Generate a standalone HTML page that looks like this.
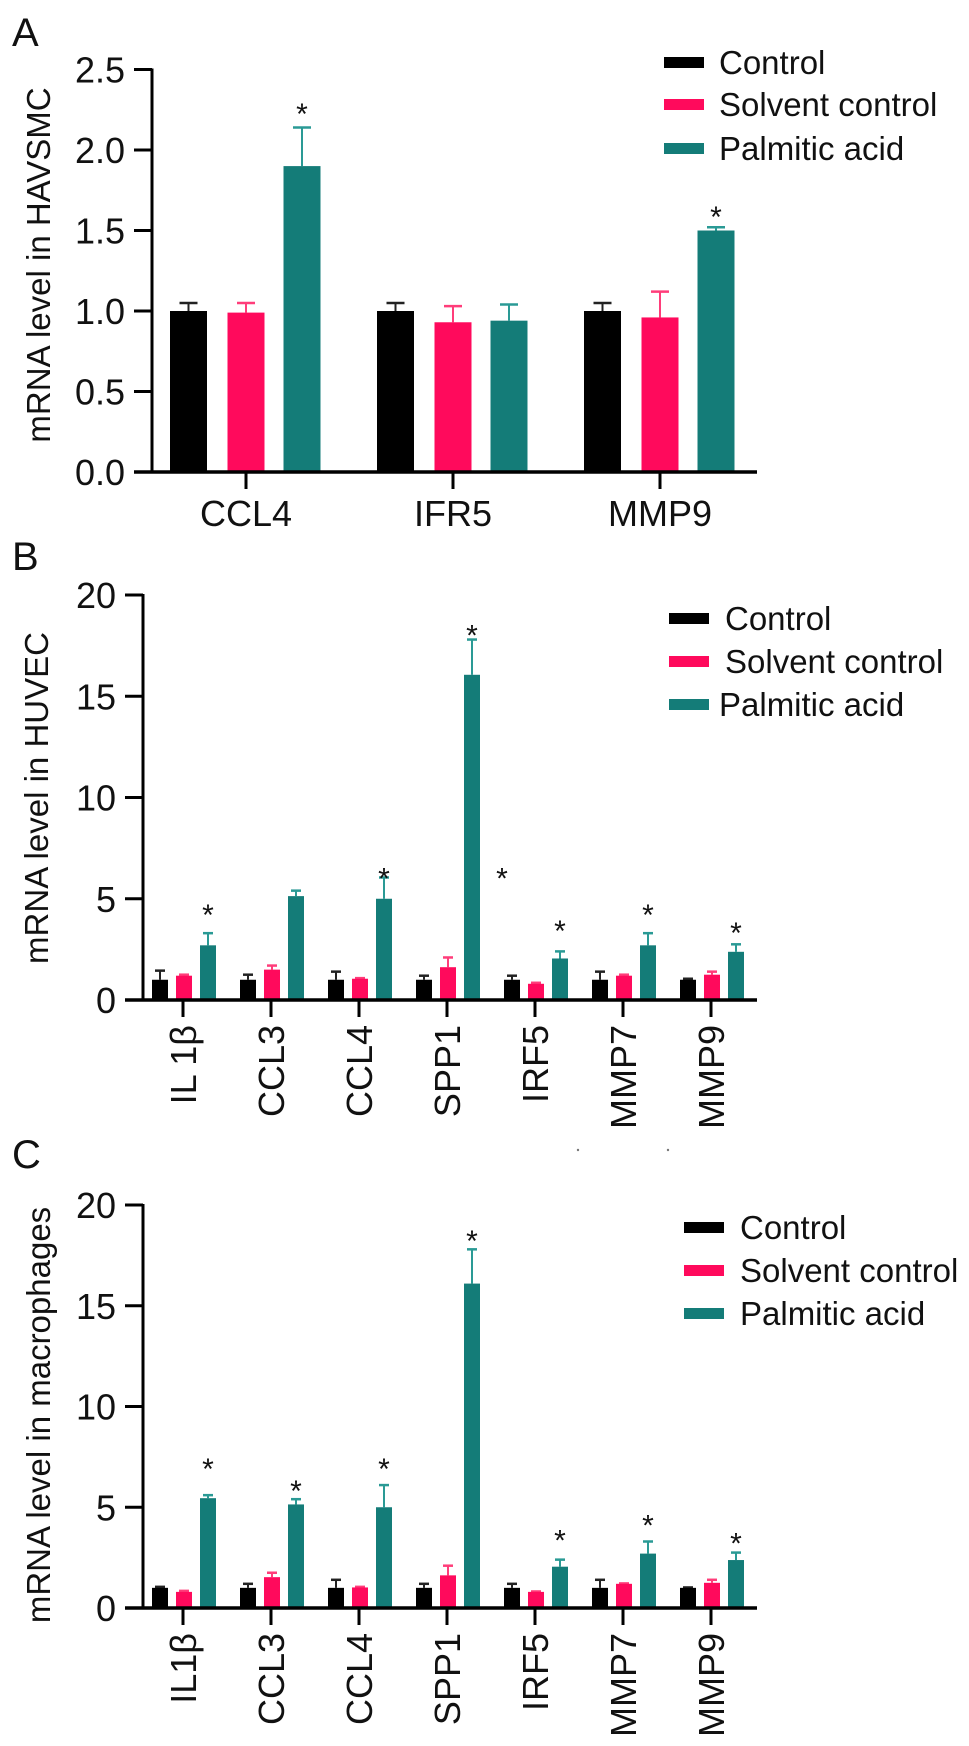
<!DOCTYPE html>
<html><head><meta charset="utf-8"><style>
html,body{margin:0;padding:0;background:#fff;}
svg{display:block;font-family:"Liberation Sans",Arial,sans-serif;}
</style></head><body>
<svg id="fig" width="969" height="1746" viewBox="0 0 969 1746" xmlns="http://www.w3.org/2000/svg">
<rect x="0" y="0" width="969" height="1746" fill="#fff"/>
</svg>
<script>
// ---------- Panel A data ----------
const groupsA = ['CCL4','IFR5','MMP9'];
const controlA = [1.00, 1.00, 1.00];
const controlErrA = [1.05, 1.05, 1.05];
const solventA = [0.99, 0.93, 0.96];
const solventErrA = [1.05, 1.03, 1.12];
const palmA = [1.90, 0.94, 1.50];
const palmErrA = [2.14, 1.04, 1.52];
const starsA = [2.25, null, 1.61];
const ticksA = [0, 0.5, 1.0, 1.5, 2.0, 2.5];
const tickLabelsA = ['0.0','0.5','1.0','1.5','2.0','2.5'];

// ---------- Panel B data ----------
const groupsB = ['IL 1\u03B2','CCL3','CCL4','SPP1','IRF5','MMP7','MMP9'];
const controlB = [1.0, 1.0, 1.0, 1.0, 1.0, 1.0, 1.0];
const controlErrB = [1.45, 1.25, 1.4, 1.2, 1.2, 1.4, 1.05];
const solventB = [1.2, 1.5, 1.05, 1.62, 0.8, 1.2, 1.25];
const solventErrB = [1.25, 1.7, 1.08, 2.1, 0.85, 1.25, 1.4];
const palmB = [2.7, 5.13, 5.0, 16.06, 2.05, 2.7, 2.38];
const palmErrB = [3.3, 5.4, 6.05, 17.8, 2.4, 3.3, 2.75];
const starsB = [4.4, null, 6.2, 18.2, 3.6, 4.4, 3.5];
const ticksB = [0, 5, 10, 15, 20];
const tickLabelsB = ['0','5','10','15','20'];

// ---------- Panel C data ----------
const groupsC = ['IL1\u03B2','CCL3','CCL4','SPP1','IRF5','MMP7','MMP9'];
const controlC = [1.0, 1.0, 1.0, 1.0, 1.0, 1.0, 1.0];
const controlErrC = [1.05, 1.2, 1.4, 1.2, 1.2, 1.4, 1.02];
const solventC = [0.8, 1.53, 1.02, 1.62, 0.8, 1.2, 1.25];
const solventErrC = [0.85, 1.75, 1.05, 2.1, 0.82, 1.22, 1.4];
const palmC = [5.45, 5.14, 5.0, 16.1, 2.05, 2.7, 2.38];
const palmErrC = [5.6, 5.4, 6.1, 17.8, 2.4, 3.3, 2.75];
const starsC = [7.1, 6.0, 7.1, 18.4, 3.55, 4.3, 3.4];
const ticksC = [0, 5, 10, 15, 20];
const tickLabelsC = ['0','5','10','15','20'];

const legendLabels = ['Control','Solvent control','Palmitic acid'];

const NS = 'http://www.w3.org/2000/svg';
const svg = document.getElementById('fig');
const COLORS = ['#000000','#ff0a5c','#147c78'];
const ERRC = ['#222222','#ff3d7a','#2a9a95'];

function mk(tag, attrs, parent){
  const e = document.createElementNS(NS, tag);
  for (const k in attrs) e.setAttribute(k, attrs[k]);
  (parent || svg).appendChild(e);
  return e;
}
function txt(s, attrs, parent){
  const t = mk('text', attrs, parent);
  t.textContent = s;
  return t;
}

function drawPanel(cfg){
  const g = mk('g', {});
  
  
  const yS = v => cfg.y0 - v * cfg.k;
  const xS = i => cfg.x0 + i * cfg.step;

  const L = txt(cfg.letter, {x: 12, y: cfg.letterY, 'font-size': 40, fill: '#111'}, g);
  
  

  const yt = txt(cfg.yTitle, {x: 0, y: 0, 'font-size': 33, fill: '#111', 'text-anchor': 'middle',
    transform: 'translate(' + cfg.yTitleX + ',' + cfg.yTitleY + ') rotate(-90)'}, g);
  
  

  const series = [cfg.ctrl, cfg.solv, cfg.palm];
  const errs = [cfg.ctrlE, cfg.solvE, cfg.palmE];
  const sNames = ['control','solvent-control','palmitic-acid'];
  for (let s = 0; s < 3; s++){
    for (let i = 0; i < cfg.groups.length; i++){
      const cx = xS(i) + cfg.offs[s];
      const top = yS(series[s][i]);
      const eTop = yS(errs[s][i]);
      const ln = mk('line', {x1: cx, x2: cx, y1: top, y2: eTop, stroke: ERRC[s], 'stroke-width': 2}, g);
      
      
      const cap = mk('line', {x1: cx - cfg.cap, x2: cx + cfg.cap, y1: eTop, y2: eTop, stroke: ERRC[s], 'stroke-width': 2.5}, g);
      
      
      const r = mk('rect', {x: cx - cfg.barW/2, y: top, width: cfg.barW, height: cfg.y0 - top, fill: COLORS[s]}, g);
      
      
    }
  }
  for (let i = 0; i < cfg.groups.length; i++){
    if (cfg.stars[i] == null) continue;
    const st = txt('*', {x: xS(i) + cfg.offs[2], y: yS(cfg.stars[i]) + 14, 'font-size': 30, 'text-anchor': 'middle', fill: '#111'}, g);
    
    
  }

  const ya = mk('line', {x1: cfg.axX, x2: cfg.axX, y1: yS(cfg.ticks[cfg.ticks.length-1]) - 1, y2: cfg.y0 + 1.5, stroke: '#000', 'stroke-width': 3}, g);
  
  
  for (let t = 0; t < cfg.ticks.length; t++){
    const y = yS(cfg.ticks[t]);
    const tk = mk('line', {x1: cfg.axX - 18, x2: cfg.axX, y1: y, y2: y, stroke: '#000', 'stroke-width': 3}, g);
    
    
    const tl = txt(cfg.tickLabels[t], {x: cfg.axX - 27, y: y + 13, 'font-size': 36, 'text-anchor': 'end', fill: '#111'}, g);
    
    
  }
  const xa = mk('line', {x1: cfg.axX - 18, x2: cfg.axRight, y1: cfg.y0, y2: cfg.y0, stroke: '#000', 'stroke-width': 3.5}, g);
  
  
  for (let i = 0; i < cfg.groups.length; i++){
    const x = xS(i);
    const tk = mk('line', {x1: x, x2: x, y1: cfg.y0, y2: cfg.y0 + 17, stroke: '#000', 'stroke-width': 3}, g);
    
    
    let tl;
    if (cfg.rotLabels){
      tl = txt(cfg.groups[i], {x: 0, y: 0, 'font-size': 36, 'text-anchor': 'end', fill: '#111',
        transform: 'translate(' + (x + 13) + ',' + (cfg.y0 + 25) + ') rotate(-90)'}, g);
    } else {
      tl = txt(cfg.groups[i], {x: x, y: cfg.y0 + 54, 'font-size': 36, 'text-anchor': 'middle', fill: '#111'}, g);
    }
    
    
  }

  const lg = mk('g', {}, g);
  
  
  for (let s = 0; s < 3; s++){
    const y = cfg.legY[s];
    const sw = mk('rect', {x: cfg.legX, y: y - 5, width: 40, height: 11, fill: COLORS[s]}, lg);
    
    
    const lt = txt(legendLabels[s], {x: cfg.legTX[s], y: y + 12, 'font-size': 33, fill: '#111'}, lg);
    
    
  }
  return {g, xS, yS};
}

drawPanel({name:'panel-a', letter:'A', letterY:46, yTitle:'mRNA level in HAVSMC', yTitleX:50, yTitleY:265,
  groups:groupsA, ctrl:controlA, ctrlE:controlErrA, solv:solventA, solvE:solventErrA, palm:palmA, palmE:palmErrA,
  stars:starsA, ticks:ticksA, tickLabels:tickLabelsA,
  x0:246, step:207, offs:[-57.5,0,56], barW:37, cap:9, y0:472, k:161, axX:152, axRight:757, rotLabels:false,
  legX:664, legTX:[719,719,719], legY:[62,104,148]});

const pB = drawPanel({name:'panel-b', letter:'B', letterY:570, yTitle:'mRNA level in HUVEC', yTitleX:48, yTitleY:798,
  groups:groupsB, ctrl:controlB, ctrlE:controlErrB, solv:solventB, solvE:solventErrB, palm:palmB, palmE:palmErrB,
  stars:starsB, ticks:ticksB, tickLabels:tickLabelsB,
  x0:183, step:88, offs:[-23,1,25], barW:16, cap:5, y0:1000, k:20.25, axX:143, axRight:757, rotLabels:true,
  legX:669, legTX:[725,725,719], legY:[618,661,704]});
const extra = txt('*', {x: pB.xS(3) + 55, y: pB.yS(6.2) + 14, 'font-size': 30, 'text-anchor': 'middle', fill: '#111'});



drawPanel({name:'panel-c', letter:'C', letterY:1168, yTitle:'mRNA level in macrophages', yTitleX:50, yTitleY:1415,
  groups:groupsC, ctrl:controlC, ctrlE:controlErrC, solv:solventC, solvE:solventErrC, palm:palmC, palmE:palmErrC,
  stars:starsC, ticks:ticksC, tickLabels:tickLabelsC,
  x0:183, step:88, offs:[-23,1,25], barW:16, cap:5, y0:1608, k:20.15, axX:143, axRight:757, rotLabels:true,
  legX:684, legTX:[740,740,740], legY:[1227,1270,1313]});

for (const px of [578, 668]){
  const d = mk('circle', {cx: px, cy: 1150, r: 1.2, fill: '#777'});
  
  
}
</script>
</body></html>
